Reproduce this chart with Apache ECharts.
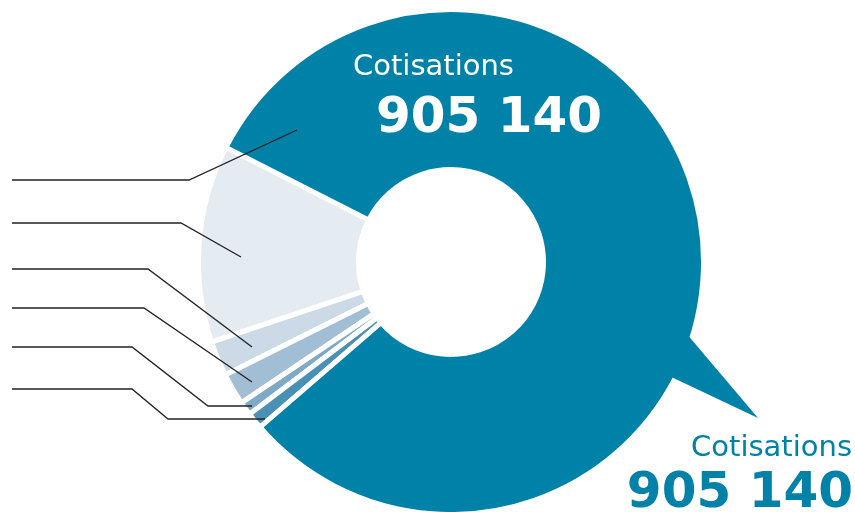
<!DOCTYPE html>
<html>
<head>
<meta charset="utf-8">
<script src="https://cdn.jsdelivr.net/npm/echarts@6/dist/echarts.min.js"></script>
<style>
html,body{margin:0;padding:0;background:#fff;}
#chart{width:855px;height:512px;}
</style>
</head>
<body>
<div id="chart"></div>
<script>
// Data
var categories = ['Poste 1', 'Poste 2', 'Poste 3', 'Poste 4', 'Poste 5', 'Cotisations'];
var values = [141000, 25100, 22600, 9800, 11800, 905140];
var colors = ['#e4ebf1', '#cbdae6', '#a2bed4', '#7eaac6', '#4a90b4', '#0081a7'];
var highlightName = 'Cotisations';

var teal = '#0081a7';
var hl = values[categories.indexOf(highlightName)];
function fmt(v){ return String(v).replace(/\B(?=(\d{3})+(?!\d))/g, ' '); }

var chart = echarts.init(document.getElementById('chart'), null, {renderer: 'canvas'});

var data = categories.map(function(c, i){
  return {name: c, value: values[i], itemStyle: {color: colors[i]}};
});

var leaders = [
  [[297,130],[189,180],[12,180]],
  [[241,257],[181,223],[12,223]],
  [[252,347],[148,269],[12,269]],
  [[252,382],[144,308],[12,308]],
  [[252,406],[208,406],[132,347],[12,347]],
  [[265,419],[168,419],[132,389],[12,389]]
];

var graphics = [
  {type: 'polygon', z: 10, shape: {points: [[686,333],[758,418],[665,374]]}, style: {fill: teal}},
  {type: 'text', z: 20, x: 353, y: 67, style: {text: highlightName, fill: '#fff', font: '29px "DejaVu Sans"', verticalAlign: 'middle', align: 'left'}},
  {type: 'text', z: 20, x: 376, y: 119, style: {text: fmt(hl), fill: '#fff', font: 'bold 50px "DejaVu Sans"', verticalAlign: 'middle', align: 'left'}},
  {type: 'text', z: 20, x: 852, y: 448, style: {text: highlightName, fill: teal, font: '29px "DejaVu Sans"', verticalAlign: 'middle', align: 'right'}},
  {type: 'text', z: 20, x: 853, y: 494, style: {text: fmt(hl), fill: teal, font: 'bold 50px "DejaVu Sans"', verticalAlign: 'middle', align: 'right'}}
];
leaders.forEach(function(p){
  graphics.push({type: 'polyline', z: 15, shape: {points: p}, style: {stroke: '#222', lineWidth: 1.3, fill: null}});
});

chart.setOption({
  animation: false,
  backgroundColor: '#fff',
  series: [{
    type: 'pie',
    center: [451, 262],
    radius: [92.5, 252.5],
    startAngle: 153,
    clockwise: false,
    silent: true,
    label: {show: false},
    labelLine: {show: false},
    itemStyle: {borderColor: '#fff', borderWidth: 5},
    emphasis: {disabled: true},
    data: data
  }],
  graphic: graphics
});
</script>
</body>
</html>
